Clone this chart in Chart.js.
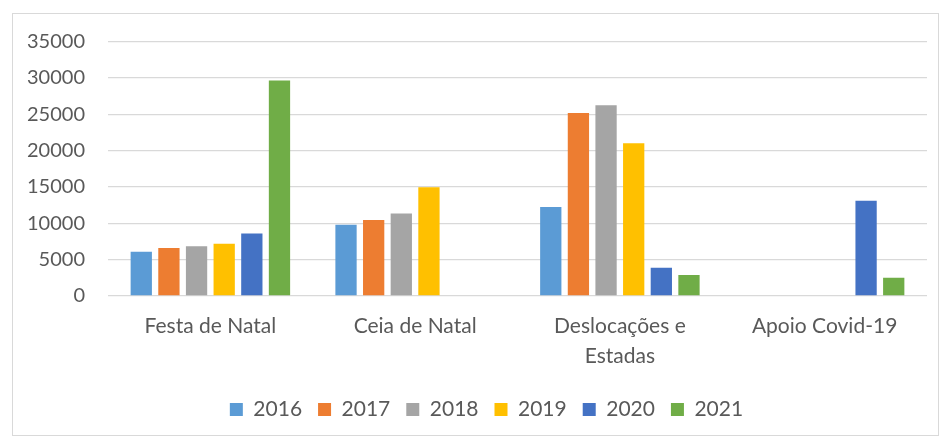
<!DOCTYPE html>
<html>
<head>
<meta charset="utf-8">
<script src="https://cdn.jsdelivr.net/npm/chart.js@4/dist/chart.umd.min.js"></script>
<style>
  html, body { margin: 0; padding: 0; background: #fff; overflow: hidden; width: 942px; height: 439px; }
  #frame { position: absolute; left: 12px; top: 13px; width: 927px; height: 423px; border: 1px solid #D9D9D9; box-sizing: border-box; }
  #wrap { position: absolute; left: 13px; top: 14px; width: 926px; height: 416px; }
</style>
</head>
<body>
<div id="frame"></div>
<div id="wrap"><canvas id="c" width="926" height="416"></canvas></div>
<script>
const categories = ["Festa de Natal", "Ceia de Natal", ["Deslocações e", "Estadas"], "Apoio Covid-19"];
const years = ["2016", "2017", "2018", "2019", "2020", "2021"];
const v2016 = [6100, 9800, 12250, null];
const v2017 = [6600, 10450, 25150, null];
const v2018 = [6850, 11350, 26250, null];
const v2019 = [7200, 14950, 21000, null];
const v2020 = [8600, null, 3900, 13100];
const v2021 = [29650, null, 2900, 2500];
const yTicks = [0, 5000, 10000, 15000, 20000, 25000, 30000, 35000];

const colors = ["#5B9BD5", "#ED7D31", "#A5A5A5", "#FFC000", "#4472C4", "#70AD47"];
const series = [v2016, v2017, v2018, v2019, v2020, v2021];

const textColor = "#595959";
const fontFamily = "Lato, 'Open Sans', sans-serif";

const legendShift = {
  id: "legendShift",
  afterLayout(chart) {
    if (chart.legend) {
      chart.legend.left += 16.5;
      chart.legend.right += 16.5;
    }
  }
};

new Chart(document.getElementById("c"), {
  type: "bar",
  data: {
    labels: categories,
    datasets: series.map((d, i) => ({
      label: years[i],
      data: d,
      backgroundColor: colors[i],
      borderWidth: 0,
      categoryPercentage: 0.81,
      barPercentage: 0.77
    }))
  },
  plugins: [legendShift],
  options: {
    responsive: false,
    animation: false,
    layout: { padding: { top: 27.5, left: 0, right: 12, bottom: 0 } },
    plugins: {
      tooltip: { enabled: false },
      legend: {
        position: "bottom",
        labels: {
          boxWidth: 13,
          boxHeight: 13,
          padding: 16,
          color: textColor,
          font: { family: fontFamily, size: 21 }
        }
      }
    },
    scales: {
      x: {
        grid: { display: false, drawTicks: false },
        border: { display: false },
        ticks: {
          color: textColor,
          padding: 15,
          maxRotation: 0,
          autoSkip: false,
          font: { family: fontFamily, size: 21, lineHeight: 1.43 }
        },
        afterFit: (s) => { s.height = 87; }
      },
      y: {
        min: 0,
        max: 35000,
        afterBuildTicks: (s) => { s.ticks = yTicks.map(v => ({ value: v })); },
        grid: { color: "#D9D9D9", lineWidth: 1.3, drawTicks: false },
        border: { display: false },
        ticks: {
          color: textColor,
          padding: 23,
          font: { family: fontFamily, size: 20, lineHeight: 0.4 },
          callback: (v) => String(v)
        },
        afterFit: (s) => { s.width = 95; }
      }
    }
  }
});
</script>
</body>
</html>
